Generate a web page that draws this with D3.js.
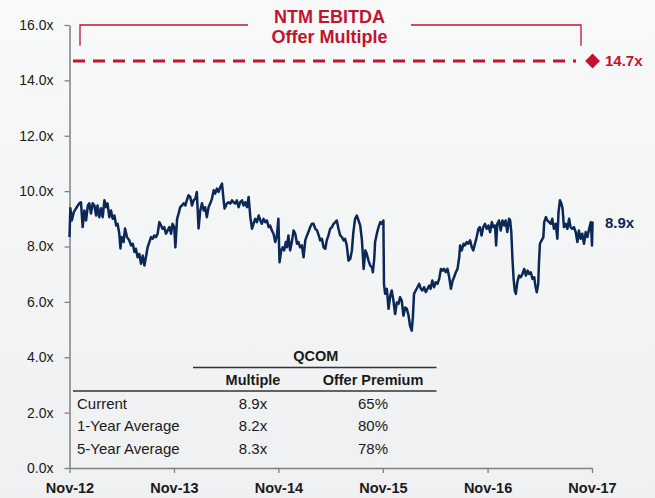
<!DOCTYPE html>
<html>
<head>
<meta charset="utf-8">
<script src="https://cdn.jsdelivr.net/npm/d3@7"></script>
<style>
  html, body { margin: 0; padding: 0; background: #f4f5f6; }
  svg { display: block; font-family: "Liberation Sans", Arial, sans-serif; }
</style>
</head>
<body>
<div id="chart"></div>
<script>
// NTM EBITDA multiple, QCOM, Nov-12 .. Nov-17
const dates = [
  "2012-11-01","2012-11-04","2012-11-09","2012-11-16","2012-11-24","2012-12-05","2012-12-11","2012-12-17","2012-12-23","2012-12-29",
  "2013-01-04","2013-01-09","2013-01-15","2013-01-21","2013-01-27","2013-02-02","2013-02-07","2013-02-13","2013-02-19","2013-02-25",
  "2013-03-03","2013-03-09","2013-03-14","2013-03-20","2013-03-26","2013-04-01","2013-04-07","2013-04-13","2013-04-18","2013-04-24",
  "2013-04-28","2013-05-02","2013-05-09","2013-05-14","2013-05-21","2013-05-29","2013-06-04","2013-06-10","2013-06-16","2013-06-21",
  "2013-06-27","2013-07-03","2013-07-09","2013-07-15","2013-07-21","2013-07-27","2013-08-01","2013-08-07","2013-08-13","2013-08-19",
  "2013-08-24","2013-08-30","2013-09-05","2013-09-11","2013-09-17","2013-09-22","2013-09-28","2013-10-04","2013-10-10","2013-10-16",
  "2013-10-22","2013-10-27","2013-11-02",
  "2013-11-06","2013-11-12","2013-11-17","2013-11-23","2013-11-29","2013-12-05","2013-12-11","2013-12-16","2013-12-22","2013-12-28",
  "2014-01-03","2014-01-09","2014-01-15","2014-01-20","2014-01-26","2014-02-01","2014-02-07","2014-02-13","2014-02-18","2014-02-24",
  "2014-03-02","2014-03-08","2014-03-14","2014-03-20","2014-03-25","2014-03-31","2014-04-06","2014-04-12","2014-04-18","2014-04-23",
  "2014-04-27","2014-05-05","2014-05-11","2014-05-17","2014-05-23","2014-05-28","2014-06-03","2014-06-09","2014-06-15","2014-06-21",
  "2014-06-27","2014-07-02","2014-07-08","2014-07-14","2014-07-20","2014-07-26","2014-08-01","2014-08-06","2014-08-12","2014-08-18",
  "2014-08-24","2014-08-30","2014-09-04","2014-09-10","2014-09-16","2014-09-22","2014-09-28","2014-10-03","2014-10-09","2014-10-15",
  "2014-10-21","2014-10-27","2014-11-01","2014-11-05",
  "2014-11-11","2014-11-16","2014-11-21","2014-11-27","2014-12-01","2014-12-06","2014-12-12","2014-12-18","2014-12-24","2014-12-30",
  "2015-01-05","2015-01-10","2015-01-16","2015-01-22","2015-01-28","2015-02-03","2015-02-09","2015-02-14","2015-02-20","2015-02-26",
  "2015-03-04","2015-03-10","2015-03-16","2015-03-22","2015-03-27","2015-04-02","2015-04-08","2015-04-14","2015-04-19","2015-04-25",
  "2015-05-01","2015-05-07","2015-05-13","2015-05-19","2015-05-24","2015-05-30","2015-06-05","2015-06-11","2015-06-17","2015-06-22",
  "2015-06-28","2015-07-04","2015-07-10","2015-07-16","2015-07-21","2015-07-27","2015-08-02","2015-08-08","2015-08-14","2015-08-20",
  "2015-08-26","2015-09-01","2015-09-06","2015-09-12","2015-09-18","2015-09-24","2015-09-27","2015-10-02","2015-10-05","2015-10-11",
  "2015-10-17","2015-10-23","2015-10-28","2015-11-03",
  "2015-11-05","2015-11-09","2015-11-15","2015-11-21","2015-11-27","2015-12-02","2015-12-08","2015-12-14","2015-12-20","2015-12-26",
  "2015-12-31","2016-01-06","2016-01-12","2016-01-18","2016-01-24","2016-01-30","2016-02-04","2016-02-10","2016-02-14","2016-02-18",
  "2016-02-24","2016-03-01","2016-03-07","2016-03-13","2016-03-18","2016-03-24","2016-03-30","2016-04-05","2016-04-11","2016-04-16",
  "2016-04-22","2016-04-28","2016-05-04","2016-05-10","2016-05-16","2016-05-22","2016-05-28","2016-06-02","2016-06-08","2016-06-14",
  "2016-06-20","2016-06-26","2016-07-02","2016-07-07","2016-07-13","2016-07-19","2016-07-25","2016-07-28","2016-08-03","2016-08-09",
  "2016-08-14","2016-08-20","2016-08-26","2016-09-01","2016-09-07","2016-09-12","2016-09-18","2016-09-24","2016-09-30","2016-10-05",
  "2016-10-11","2016-10-17","2016-10-23","2016-10-29","2016-11-04","2016-11-10","2016-11-16","2016-11-21","2016-11-27","2016-12-01",
  "2016-12-05","2016-12-11","2016-12-17","2016-12-23","2016-12-29","2017-01-03","2017-01-09","2017-01-15","2017-01-19","2017-01-23",
  "2017-01-27","2017-01-31","2017-02-04","2017-02-08","2017-02-13","2017-02-19","2017-02-25","2017-03-03","2017-03-09","2017-03-15",
  "2017-03-21","2017-03-26","2017-04-01","2017-04-07","2017-04-13","2017-04-17","2017-04-22","2017-04-27","2017-04-30","2017-05-03",
  "2017-05-09","2017-05-15","2017-05-18","2017-05-24","2017-05-29","2017-06-04","2017-06-10","2017-06-15","2017-06-21","2017-06-27",
  "2017-07-03","2017-07-07","2017-07-12","2017-07-17","2017-07-21","2017-07-26","2017-08-01","2017-08-07","2017-08-13","2017-08-18",
  "2017-08-24","2017-08-30","2017-09-05","2017-09-11","2017-09-16","2017-09-22","2017-09-28","2017-10-04","2017-10-10","2017-10-16",
  "2017-10-22","2017-10-28","2017-11-01","2017-11-03"
];

const multiples = [
  8.34,9.38,8.94,9.24,9.38,9.56,9.60,8.70,9.30,8.94,
  9.48,9.56,9.19,9.56,9.48,9.12,9.48,9.06,9.38,9.06,
  9.67,9.42,9.56,9.06,9.30,9.00,9.12,8.76,8.82,8.47,
  7.93,8.34,8.16,8.65,8.34,8.22,8.04,8.10,7.80,7.92,
  7.61,7.73,7.38,7.67,7.31,7.67,7.97,8.16,8.34,8.28,
  8.40,8.34,8.46,8.88,8.76,8.64,8.70,8.46,8.58,8.70,
  8.46,8.82,8.70,
  7.97,9.00,9.18,9.42,9.48,9.56,9.48,9.67,9.85,9.79,
  9.48,9.67,9.73,9.97,8.65,9.30,9.56,9.30,9.42,9.06,
  9.42,9.56,9.73,10.03,9.91,10.09,9.97,10.15,10.27,9.73,
  9.37,9.55,9.60,9.55,9.67,9.60,9.55,9.67,9.42,9.60,
  9.67,9.48,9.60,9.42,9.79,9.06,8.64,8.82,9.00,8.88,
  9.12,8.94,8.82,9.00,8.88,8.94,8.70,8.76,8.58,8.46,
  8.16,8.40,9.00,7.43,
  7.86,7.97,7.86,8.16,7.97,8.40,7.86,8.16,8.58,8.46,
  8.10,8.16,7.97,8.04,7.61,8.22,8.40,8.52,8.70,8.82,
  8.82,8.64,8.58,8.40,8.22,8.28,7.97,7.92,8.22,8.40,
  8.64,8.70,8.82,8.88,8.94,8.64,8.40,8.34,8.22,8.28,
  8.04,7.49,7.55,7.86,8.52,9.00,9.12,8.94,8.76,8.22,
  7.19,7.86,7.73,7.49,7.31,7.25,7.07,7.55,8.16,8.46,
  8.70,8.88,8.82,8.94,
  6.65,6.29,6.47,5.75,6.23,6.41,6.05,5.56,5.98,5.93,
  6.17,6.05,5.50,5.80,5.75,5.50,5.14,4.96,5.44,6.29,
  6.41,6.53,6.65,6.47,6.41,6.53,6.35,6.47,6.59,6.47,
  6.77,6.53,6.71,6.65,6.83,7.19,7.13,7.19,7.07,7.19,
  6.89,6.47,6.77,6.89,7.07,7.19,7.61,8.04,7.86,8.10,
  8.04,8.16,8.10,8.22,7.97,7.86,8.10,8.34,8.64,8.70,
  8.40,8.70,8.82,8.64,8.76,8.52,8.88,8.70,8.76,8.04,
  8.82,8.94,8.58,8.94,8.76,8.94,8.52,9.00,8.94,8.52,
  7.55,6.83,6.41,6.29,6.71,6.95,6.89,7.01,7.19,6.95,
  7.13,7.01,7.07,6.83,6.89,6.59,6.35,6.65,7.49,8.10,
  8.22,8.34,8.88,9.06,8.94,8.88,8.82,9.00,8.64,8.82,
  8.28,9.24,9.67,9.55,9.37,8.70,8.82,8.64,9.00,8.70,
  8.64,8.70,8.52,8.16,8.58,8.28,8.46,8.10,8.52,8.34,
  8.64,8.88,8.04,8.90
];

const xTickDates = ["2012-11-01","2013-11-01","2014-11-01","2015-11-01","2016-11-01","2017-11-01"];
const yTickValues = [0, 2, 4, 6, 8, 10, 12, 14, 16];

const offerMultiple = 14.7;
const currentMultiple = 8.9;
const titleLines = ["NTM EBITDA", "Offer Multiple"];

const tableTitle = "QCOM";
const tableHeaders = ["Multiple", "Offer Premium"];
const tableRows = ["Current", "1-Year Average", "5-Year Average"];
const tableMultiples = [8.9, 8.2, 8.3];
const tablePremiums = [65, 80, 78];

const W = 655, H = 498;
const red = "#c3132f", navy = "#0b2857", ink = "#1a1a1a";

const parse = d3.timeParse("%Y-%m-%d");
const series = dates.map((d, i) => ({ date: parse(d), value: multiples[i] }));

const x = d3.scaleTime()
  .domain([parse(xTickDates[0]), parse(xTickDates[xTickDates.length - 1])])
  .range([69.5, 592]);
const y = d3.scaleLinear().domain([0, 16]).range([468, 25]);

const svg = d3.select("#chart").append("svg")
  .attr("width", W)
  .attr("height", H);

const grad = svg.append("defs").append("linearGradient")
  .attr("id", "bg").attr("x1", 0).attr("y1", 0).attr("x2", 0).attr("y2", 1);
grad.append("stop").attr("offset", "0%").attr("stop-color", "#f8f9f9");
grad.append("stop").attr("offset", "100%").attr("stop-color", "#eff0f1");

svg.append("rect")
  .attr("width", W).attr("height", H)
  .attr("fill", "url(#bg)");

// axes
const fmtX = d3.timeFormat("%b-%y");
const xAxis = svg.append("g")
  .attr("transform", `translate(0,${y(0)})`)
  .call(d3.axisBottom(x)
    .tickValues(xTickDates.map(parse))
    .tickSize(5)
    .tickSizeOuter(0)
    .tickFormat(fmtX));

const yAxis = svg.append("g")
  .attr("transform", `translate(${x.range()[0]},0)`)
  .call(d3.axisLeft(y)
    .tickValues(yTickValues)
    .tickSize(5)
    .tickSizeOuter(0)
    .tickPadding(11)
    .tickFormat(d => d3.format(".1f")(d) + "x"));

[xAxis, yAxis].forEach(g => {
  g.select(".domain").attr("stroke", "#7f7f7f").attr("stroke-width", 1.5);
  g.selectAll(".tick line").attr("stroke", "#7f7f7f").attr("stroke-width", 1.3);
  g.selectAll(".tick text")
    .attr("fill", ink)
    .attr("font-family", "Liberation Sans, Arial, sans-serif");
});
yAxis.selectAll(".tick text").attr("font-size", 14);
xAxis.selectAll(".tick text")
  .attr("font-size", 14.5)
  .attr("font-weight", "bold")
  .attr("y", 25)
  .attr("dy", 0);

// offer multiple: bracket + title + dashed line
const bx0 = 80, bx1 = 581, gapL = 248, gapR = 411;
const bTop = y(16), bBot = y(15.25);
const bracket = svg.append("g")
  .attr("fill", "none")
  .attr("stroke", red)
  .attr("stroke-width", 1.3);
bracket.append("path").attr("d", `M${bx0},${bBot}V${bTop}H${gapL}`);
bracket.append("path").attr("d", `M${gapR},${bTop}H${bx1}V${bBot}`);

svg.append("g").selectAll("text")
  .data(titleLines)
  .join("text")
  .attr("x", (gapL + gapR) / 2)
  .attr("y", (d, i) => 23 + i * 19.5)
  .attr("text-anchor", "middle")
  .attr("font-size", 18)
  .attr("font-weight", "bold")
  .attr("fill", red)
  .text(d => d);

svg.append("line")
  .attr("x1", 73).attr("x2", 576)
  .attr("y1", y(offerMultiple)).attr("y2", y(offerMultiple))
  .attr("stroke", red)
  .attr("stroke-width", 3)
  .attr("stroke-dasharray", "12 8");

const endDate = series[series.length - 1].date;
svg.append("path")
  .attr("d", d3.symbol(d3.symbolDiamond2, 140)())
  .attr("transform", `translate(${x(endDate)},${y(offerMultiple)})`)
  .attr("fill", red);

svg.append("text")
  .attr("x", 605)
  .attr("y", y(offerMultiple) + 5.5)
  .attr("font-size", 15)
  .attr("font-weight", "bold")
  .attr("fill", red)
  .text(d3.format(".1f")(offerMultiple) + "x");

// multiple line
svg.append("path")
  .datum(series)
  .attr("fill", "none")
  .attr("stroke", navy)
  .attr("stroke-width", 2.5)
  .attr("stroke-linejoin", "round")
  .attr("d", d3.line().x(d => x(d.date)).y(d => y(d.value)));

svg.append("text")
  .attr("x", 605)
  .attr("y", 228)
  .attr("font-size", 15)
  .attr("font-weight", "bold")
  .attr("fill", navy)
  .text(d3.format(".1f")(currentMultiple) + "x");

// table
const colMult = 253, colPrem = 373, tLeft = 73, tRight = 436.5, tSub = 193;
const table = svg.append("g").attr("fill", ink);

table.append("text")
  .attr("x", (tSub + tRight) / 2 + 1)
  .attr("y", 360.5)
  .attr("text-anchor", "middle")
  .attr("font-size", 14.5)
  .attr("font-weight", "bold")
  .text(tableTitle);

table.append("line")
  .attr("x1", tSub).attr("x2", tRight)
  .attr("y1", 367.5).attr("y2", 367.5)
  .attr("stroke", "#333").attr("stroke-width", 1.6);

table.selectAll("text.hdr")
  .data(tableHeaders)
  .join("text")
  .attr("class", "hdr")
  .attr("x", (d, i) => i === 0 ? colMult : colPrem)
  .attr("y", 385)
  .attr("text-anchor", "middle")
  .attr("font-size", 14.5)
  .attr("font-weight", "bold")
  .text(d => d);

table.append("line")
  .attr("x1", tLeft).attr("x2", tRight)
  .attr("y1", 391).attr("y2", 391)
  .attr("stroke", "#333").attr("stroke-width", 1.6);

const rowY = i => 408.5 + i * 22.5;
const rows = table.selectAll("g.row")
  .data(tableRows)
  .join("g")
  .attr("class", "row")
  .attr("font-size", 15);

rows.append("text")
  .attr("x", 77)
  .attr("y", (d, i) => rowY(i))
  .text(d => d);

rows.append("text")
  .attr("x", colMult)
  .attr("y", (d, i) => rowY(i))
  .attr("text-anchor", "middle")
  .text((d, i) => d3.format(".1f")(tableMultiples[i]) + "x");

rows.append("text")
  .attr("x", colPrem)
  .attr("y", (d, i) => rowY(i))
  .attr("text-anchor", "middle")
  .text((d, i) => tablePremiums[i] + "%");
</script>
</body>
</html>
